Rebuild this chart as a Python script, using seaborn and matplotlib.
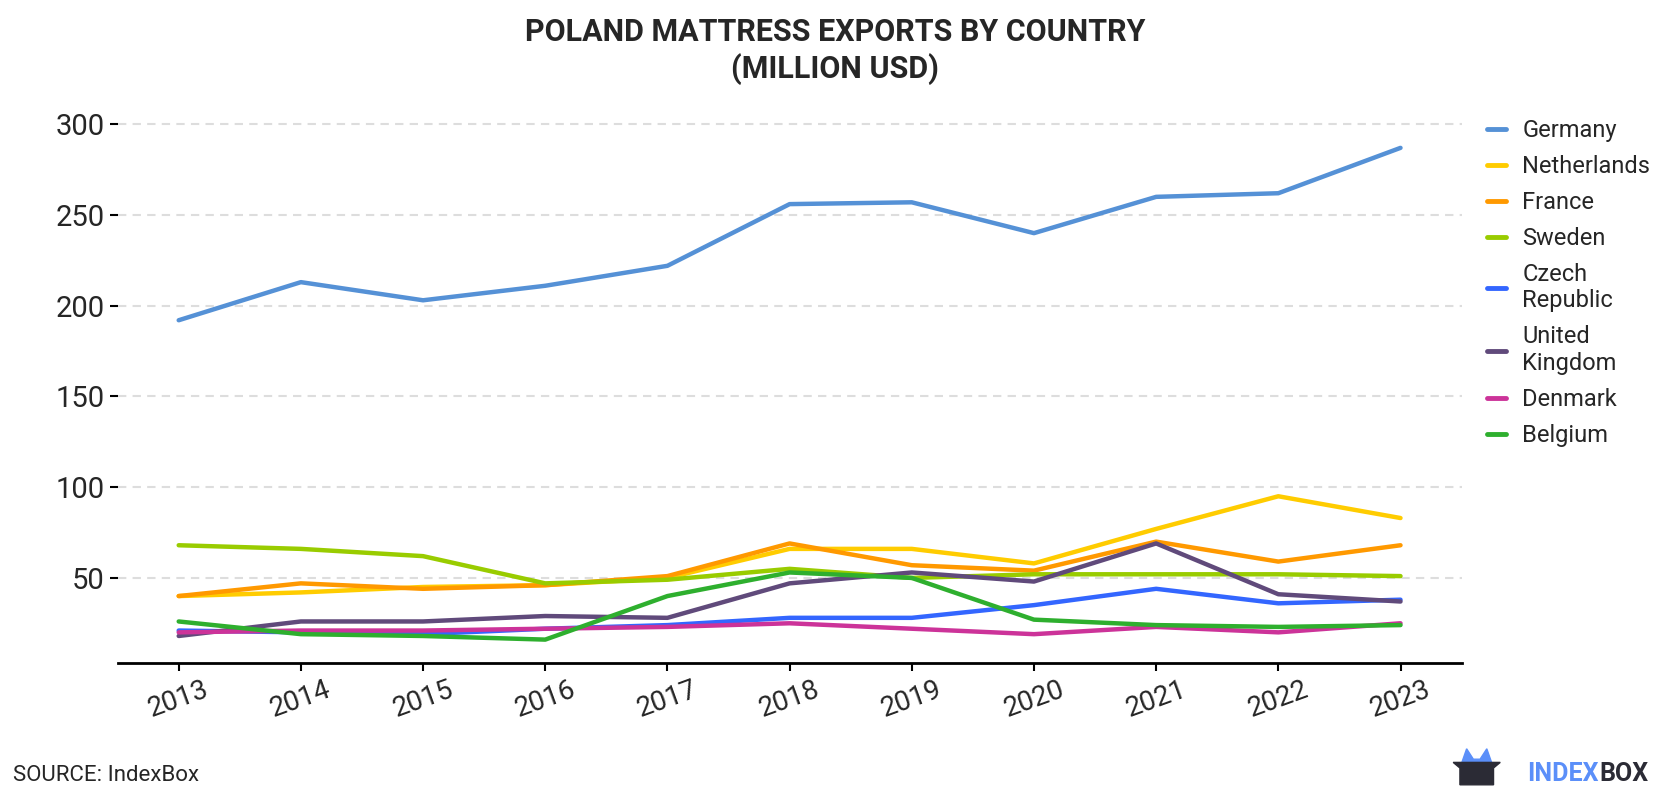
import numpy as np
import pandas as pd
import seaborn as sns
import matplotlib.pyplot as plt
from matplotlib.patches import Polygon

years = list(range(2013, 2024))
countries = ["Germany", "Netherlands", "France", "Sweden", "Czech\nRepublic",
             "United\nKingdom", "Denmark", "Belgium"]

germany = [192, 213, 203, 211, 222, 256, 257, 240, 260, 262, 287]
netherlands = [40, 42, 45, 46, 50, 66, 66, 58, 77, 95, 83]
france = [40, 47, 44, 46, 51, 69, 57, 54, 70, 59, 68]
sweden = [68, 66, 62, 47, 49, 55, 50, 52, 52, 52, 51]
czech = [21, 20, 19, 22, 24, 28, 28, 35, 44, 36, 38]
uk = [18, 26, 26, 29, 28, 47, 53, 48, 69, 41, 37]
denmark = [20, 21, 21, 22, 23, 25, 22, 19, 23, 20, 25]
belgium = [26, 19, 18, 16, 40, 53, 50, 27, 24, 23, 24]

colors = ["#5591d6", "#ffcc00", "#ff9900", "#99cc00", "#3366ff",
          "#604a7b", "#cc3399", "#2eaf2e"]

series = [germany, netherlands, france, sweden, czech, uk, denmark, belgium]
df = pd.DataFrame({
    "year": years * len(countries),
    "country": [c for c in countries for _ in years],
    "value": [v for s in series for v in s],
})

sns.set_theme(style="white")
plt.rcParams['font.family'] = ['Roboto', 'DejaVu Sans']

fig = plt.figure(figsize=(16.8, 8), dpi=100)
ax = fig.add_axes([0.070, 0.171, 0.800, 0.685])

sns.lineplot(data=df, x="year", y="value", hue="country", hue_order=countries,
             palette=colors, linewidth=3.2, ax=ax, legend=True)

ax.set_xlim(2012.5, 2023.5)
ax.set_ylim(3, 305)
ax.set_yticks([50, 100, 150, 200, 250, 300])
ax.set_xticks(years)
ax.set_xticklabels([str(y) for y in years], rotation=20, fontsize=20)
ax.tick_params(axis="y", labelsize=21, length=6, width=1.5, color="black", left=True)
ax.tick_params(axis="x", length=6, width=1.5, color="black", bottom=True)
ax.set_xlabel("")
ax.set_ylabel("")
ax.yaxis.grid(True, linestyle=(0, (4, 3)), color="#dddddd", linewidth=1.5)
ax.set_axisbelow(True)
for s in ["top", "right", "left"]:
    ax.spines[s].set_visible(False)
ax.spines["bottom"].set_color("black")
ax.spines["bottom"].set_linewidth(2)

leg = ax.legend(loc="upper left", bbox_to_anchor=(1.003, 1.032), frameon=False,
                fontsize=17, handlelength=0.8, handletextpad=0.7, labelspacing=0.55)
for line in leg.get_lines():
    line.set_linewidth(3.5)

fig.text(0.497, 0.979, "POLAND MATTRESS EXPORTS BY COUNTRY\n(MILLION USD)",
         ha="center", va="top", fontsize=22, fontweight="bold", linespacing=1.25)
fig.text(0.008, 0.031, "SOURCE: IndexBox", ha="left", va="center", fontsize=16)

# logo
fig.text(0.981, 0.033, "BOX", color="#2b2b35", fontsize=18, fontweight="bold",
         ha="right", va="center")
fig.text(0.9515, 0.033, "INDEX", color="#5b8ff9", fontsize=18, fontweight="bold",
         ha="right", va="center")
fig.patches.append(Polygon([[0.8695, 0.043], [0.873, 0.064], [0.877, 0.051], [0.881, 0.051],
                            [0.885, 0.064], [0.8885, 0.043]], closed=True,
                           transform=fig.transFigure, color="#5b8ff9"))
fig.patches.append(Polygon([[0.865, 0.047], [0.893, 0.047], [0.889, 0.040], [0.889, 0.019],
                            [0.869, 0.019], [0.869, 0.040]], closed=True,
                           transform=fig.transFigure, color="#2b2b35"))

fig.savefig("out.png", dpi=100)
